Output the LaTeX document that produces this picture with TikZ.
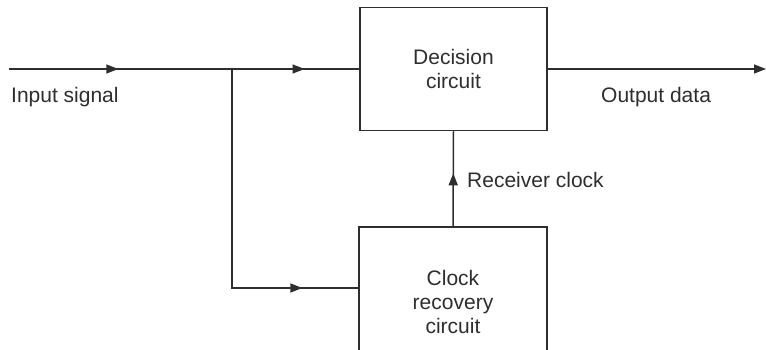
\documentclass[tikz,border=0pt]{standalone}
\usepackage{fontspec}
\setmainfont{Liberation Sans}
\usetikzlibrary{arrows.meta,decorations.markings}
\definecolor{ln}{HTML}{2e2e2e}
\tikzset{
  wire/.style={draw=ln,line width=1.5pt},
  blk/.style={draw=ln,line width=1.5pt,rectangle,inner sep=0pt,align=center,
    font=\fontsize{21}{24}\selectfont,text=ln},
  lbl/.style={inner sep=0pt,font=\fontsize{21}{24}\selectfont,text=ln},
  midarrow/.style={postaction={decorate},decoration={markings,
    mark=at position #1 with {\arrow[ln]{Triangle[length=12pt,width=9pt]}}}}
}
\begin{document}
\begin{tikzpicture}[x=1pt,y=-1pt]
\clip (0,0) rectangle (766,350);
\fill[white] (0,0) rectangle (766,350);
\node[blk,minimum width=187pt,minimum height=123pt] (dec) at (453.5,69) {Decision\\circuit};
\node[blk,minimum width=188pt,minimum height=150pt] (clk) at (453,302) {Clock\\recovery\\circuit};
\coordinate (in) at (9,69);
\coordinate (br) at (232,69);
\coordinate (lo) at (232,288);
\coordinate (out) at (766,69);
\draw[wire,midarrow=0.49] (in) -- (br);
\draw[wire,midarrow=0.57] (br) -- (dec.west |- br);
\draw[wire,midarrow=0.838] (br) -- (lo) -- (lo -| clk.west);
\draw[wire,midarrow=0.557] (clk.north) -- (dec.south);
\draw[wire,-{Triangle[length=12pt,width=9pt]}] (dec.east |- out) -- (out);
\node[lbl,anchor=base west] (lin) at (11,103) {Input signal};
\node[lbl,anchor=base west] (lout) at (601,103) {Output data};
\node[lbl,anchor=base west] (lclk) at (467,187) {Receiver clock};
\end{tikzpicture}
\end{document}
